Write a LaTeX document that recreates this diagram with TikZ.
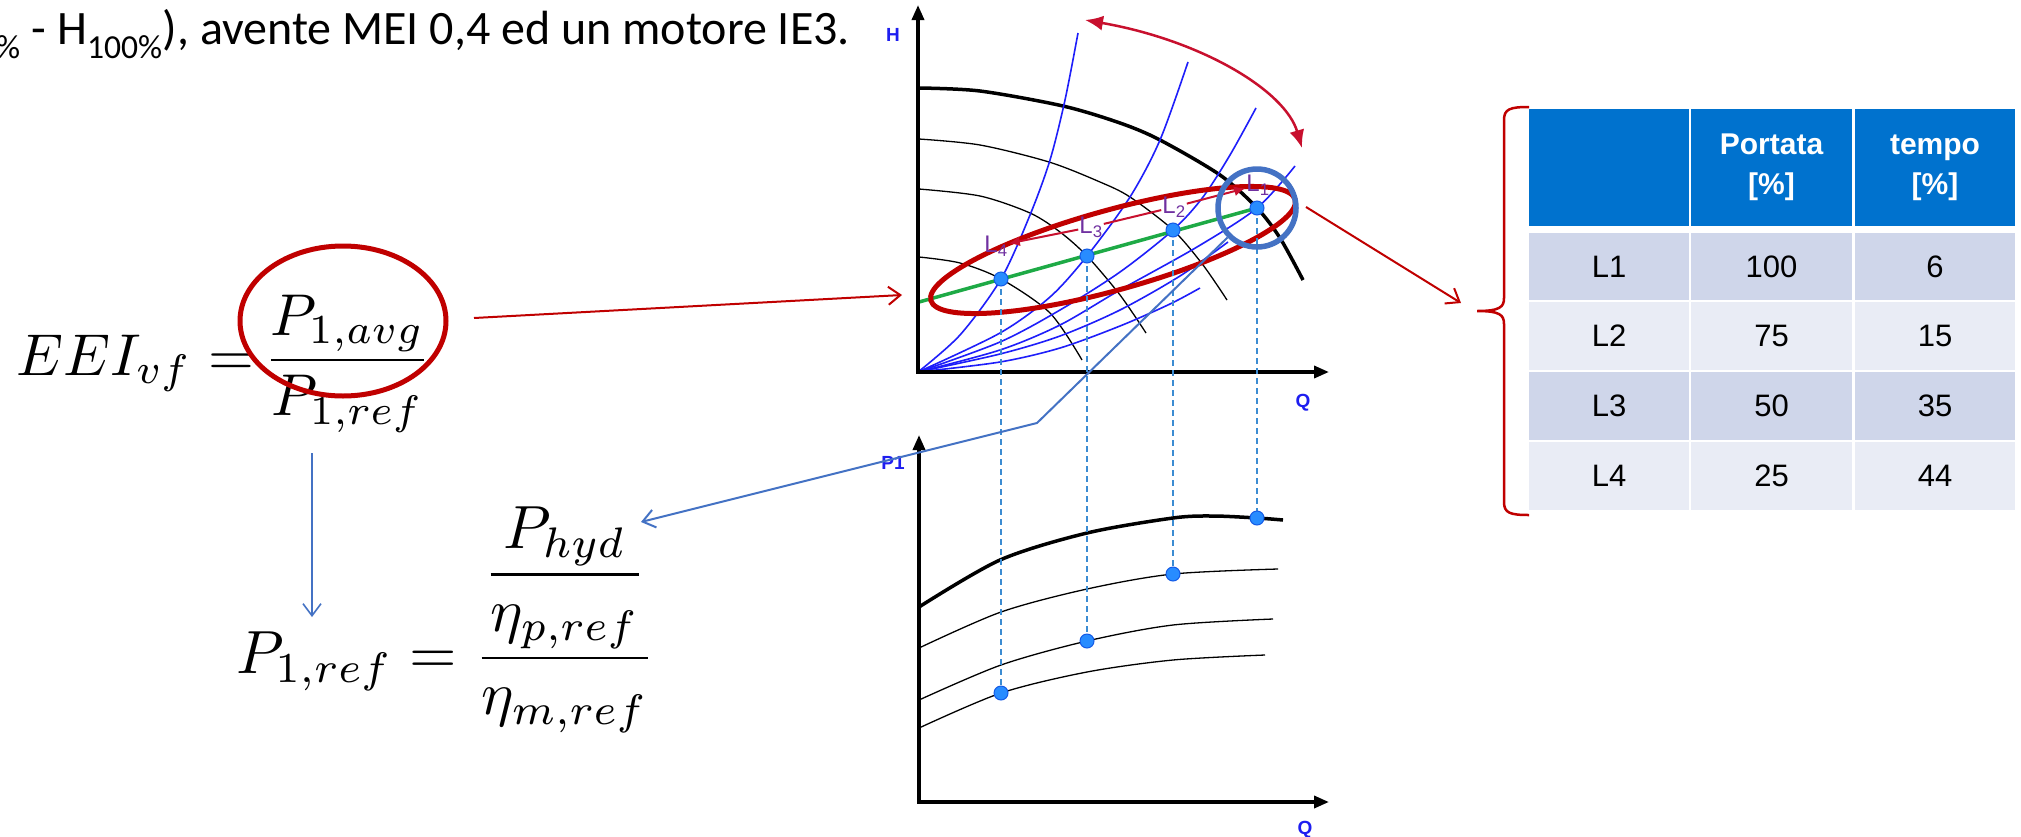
\documentclass[tikz,border=0pt]{standalone}
\usepackage{fontspec}
\usepackage{amsmath}
\usepackage{graphicx}
\usetikzlibrary{arrows.meta,shapes.geometric,calc}
\newfontfamily\carlito{Carlito}
\newfontfamily\arial{Liberation Sans}
\definecolor{darkred}{RGB}{192,0,0}
\definecolor{crimson}{RGB}{200,16,46}
\definecolor{steel}{RGB}{68,114,196}
\definecolor{sysblue}{RGB}{30,30,250}
\definecolor{dotblue}{RGB}{40,140,255}
\definecolor{dotedge}{RGB}{20,90,230}
\definecolor{dashblue}{RGB}{60,140,210}
\definecolor{ctrlgreen}{RGB}{30,170,70}
\definecolor{lblpurple}{RGB}{112,48,160}
\definecolor{hdrblue}{RGB}{0,114,206}
\definecolor{rowdark}{RGB}{207,214,234}
\definecolor{rowlight}{RGB}{233,236,245}
\definecolor{axislbl}{RGB}{30,30,240}
\tikzset{
  axisline/.style={line width=3.5pt, -{Triangle[length=15pt,width=12pt]}},
  thickcurve/.style={line width=3.5pt, smooth, tension=0.5},
  thincurve/.style={line width=1.3pt, smooth, tension=0.5},
  syscurve/.style={sysblue, line width=1.6pt, smooth, tension=0.5},
  dashline/.style={dashblue, line width=1.8pt, dash pattern=on 6pt off 4pt},
  ptdot/.style={circle, fill=dotblue, draw=dotedge, line width=1pt, minimum size=14pt, inner sep=0},
  axlbl/.style={text=axislbl, font=\arial\bfseries\fontsize{19}{21}\selectfont, inner sep=0},
  llbl/.style={text=lblpurple, font=\arial\fontsize{24}{26}\selectfont, inner sep=1pt},
  redarr/.style={crimson, line width=2pt},
  openred/.style={darkred, line width=2pt, -{Straight Barb[length=12pt,width=18pt,line width=2pt]}},
  openblue/.style={steel, line width=2pt, -{Straight Barb[length=12pt,width=18pt,line width=2pt]}},
  cellbase/.style={rectangle, inner sep=0, minimum height=68pt, font=\arial\fontsize{31}{36}\selectfont},
  hdrcell/.style={rectangle, inner sep=0, fill=hdrblue, minimum height=117pt, text=white, align=center, font=\arial\bfseries\fontsize{30}{40}\selectfont}
}
\begin{document}
\begin{tikzpicture}[x=1pt,y=-1pt]
\useasboundingbox (0,0) rectangle (2021,836);
\fill[white] (0,0) rectangle (2021,836);

% ---------- intro text ----------
\node[anchor=base west, inner sep=0, font=\carlito\fontsize{48}{56}\selectfont] (intro) at (-4,44)
  {\textsubscript{\%} - H\textsubscript{100\%}), avente MEI 0,4 ed un motore IE3.};

% ---------- formulas ----------
\node[anchor=base west, inner sep=0] (eei) at (16,375)
  {\scalebox{5.9}{$\displaystyle EEI_{vf}\;{=}\,\frac{P_{1,avg}}{P_{1,ref}}$}};
\node[anchor=base west, inner sep=0] (pref) at (236,673)
  {\scalebox{6.1}{$\displaystyle P_{1,ref} = \frac{\dfrac{P_{hyd}}{\eta_{p,ref}}}{\eta_{m,ref}}$}};
\node[ellipse, draw=darkred, line width=5pt, minimum width=206pt, minimum height=150pt, inner sep=0] (avgring) at (343,321) {};

% ---------- point coordinates ----------
\coordinate (pu1) at (1257,208);
\coordinate (pu2) at (1173,230);
\coordinate (pu3) at (1087,256);
\coordinate (pu4) at (1001,279);
\coordinate (pd1) at (1257,518);
\coordinate (pd2) at (1173,574);
\coordinate (pd3) at (1087,641);
\coordinate (pd4) at (1001,693);

% ---------- upper chart ----------
\draw[thickcurve] plot coordinates {(919,88) (980,91) (1063,106) (1120,123) (1160,140) (1220,175) (1257,208) (1280,238) (1303,280)};
\draw[thincurve] plot coordinates {(919,139) (980,145) (1049,162) (1100,182) (1130,197) (1173,230) (1203,265) (1227,300)};
\draw[thincurve] plot coordinates {(919,189) (980,196) (1030,213) (1060,232) (1087,256) (1120,295) (1146,333)};
\draw[thincurve] plot coordinates {(919,257) (960,263) (1001,279) (1050,313) (1082,360)};

\draw[syscurve] plot coordinates {(918,372) (960,335) (1001,279) (1030,215) (1050,160) (1065,100) (1078,33)};
\draw[syscurve] plot coordinates {(918,372) (1000,333) (1050,297) (1087,256) (1130,197) (1160,140) (1188,62)};
\draw[syscurve] plot coordinates {(918,372) (1000,342) (1060,310) (1120,272) (1173,230) (1203,197) (1230,155) (1256,108)};
\draw[syscurve] plot coordinates {(918,372) (1000,350) (1060,325) (1120,290) (1197,247) (1257,208) (1295,166)};
\draw[syscurve] plot coordinates {(918,372) (1000,354) (1060,336) (1120,310) (1180,276) (1228,242)};
\draw[syscurve] plot coordinates {(918,372) (1000,362) (1060,348) (1120,326) (1170,304) (1200,288)};

\draw[ctrlgreen, line width=3.5pt] (919,302) -- (pu1);

\draw[axisline] (918,373.75) -- (918,5);
\draw[axisline] (916.25,372) -- (1329,372);
\node[axlbl] (hlbl) at (893,35) {H};
\node[axlbl] (qlbl1) at (1303,403) {Q};

% red operating band
\node[ellipse, draw=darkred, line width=5pt, minimum width=378pt, minimum height=80pt, inner sep=0, rotate=15.5] (band) at (1113,250) {};

% L labels and red arrow
\node[llbl] (lab1) at (1258,185) {L\textsubscript{1}};
\node[llbl] (lab2) at (1174,207) {L\textsubscript{2}};
\node[llbl] (lab3) at (1091,227) {L\textsubscript{3}};
\node[llbl] (lab4) at (996,246) {L\textsubscript{4}};
\draw[redarr, -{Latex[length=11pt,width=10pt]}] (lab2) -- (lab1);
\draw[redarr] (lab3) -- (lab2);
\draw[redarr, -{Latex[length=11pt,width=10pt]}] (lab3) -- (lab4);

% curved double arrow
\coordinate (arcA) at (1085,20);
\coordinate (arcB) at (1302,148);
\draw[crimson, line width=2.5pt, {Latex[length=18pt,width=15pt]}-{Latex[length=18pt,width=15pt]}] (arcA) .. controls (1200,40) and (1285,90) .. (arcB);

% ---------- lower chart ----------
\draw[thickcurve] plot coordinates {(919,607) (1000,560) (1087,533) (1173,518) (1213,516) (1257,518) (1283,520)};
\draw[thincurve] plot coordinates {(919,648) (1001,612) (1087,589) (1173,574) (1278,569)};
\draw[thincurve] plot coordinates {(919,700) (1001,665) (1087,641) (1173,625) (1273,619)};
\draw[thincurve] plot coordinates {(919,728) (1001,693) (1087,672) (1173,660) (1265,655)};
\draw[axisline] (919,803.75) -- (919,435);
\draw[axisline] (917.25,802) -- (1329,802);
\node[axlbl] (p1lbl) at (893,463) {P1};
\node[axlbl] (qlbl2) at (1305,830) {Q};

% dashed projections
\draw[dashline] (pu1) -- (pd1);
\draw[dashline] (pu2) -- (pd2);
\draw[dashline] (pu3) -- (pd3);
\draw[dashline] (pu4) -- (pd4);

% dots
\node[ptdot] (u1) at (pu1) {};
\node[ptdot] (u2) at (pu2) {};
\node[ptdot] (u3) at (pu3) {};
\node[ptdot] (u4) at (pu4) {};
\node[ptdot] (d1) at (pd1) {};
\node[ptdot] (d2) at (pd2) {};
\node[ptdot] (d3) at (pd3) {};
\node[ptdot] (d4) at (pd4) {};

% steel ring
\node[circle, draw=steel, line width=5.5pt, minimum size=78pt, inner sep=0] (ring) at (pu1) {};

% ---------- connectors ----------
\coordinate (redA) at (474,318);
\coordinate (redB) at (902,295);
\draw[openred] (redA) -- (redB);

\coordinate (kink) at (1037,423);
\coordinate (phydtip) at (641,522);
\draw[openblue] (ring.south west) -- (kink) -- (phydtip);

\coordinate (vA) at (312,453);
\coordinate (vB) at (312,617);
\draw[steel, line width=1.6pt, -{Straight Barb[length=12pt,width=18pt,line width=1.6pt]}] (vA) -- (vB);

\coordinate (tblA) at (1306,207);
\coordinate (tblB) at (1461,303);
\draw[openred] (tblA) -- (tblB);

% brace
\draw[darkred, line width=2.5pt] (1529,107) .. controls (1510,107) and (1504,109) .. (1504,120) -- (1504,298)
  .. controls (1504,307) and (1500,311) .. (1477,311)
  .. controls (1500,311) and (1504,315) .. (1504,324) -- (1504,502)
  .. controls (1504,513) and (1510,515) .. (1529,515);

% ---------- table ----------
\node[hdrcell, minimum width=160pt] (h1) at (1609,167.5) {};
\node[hdrcell, minimum width=161pt] (h2) at (1771.5,167.5) {Portata\\{[\%]}};
\node[hdrcell, minimum width=160pt] (h3) at (1935,167.5) {tempo\\{[\%]}};

\node[cellbase, fill=rowdark, minimum width=160pt, minimum height=67pt] (r1a) at (1609,266.5) {L1};
\node[cellbase, fill=rowdark, minimum width=161pt, minimum height=67pt] (r1b) at (1771.5,266.5) {100};
\node[cellbase, fill=rowdark, minimum width=160pt, minimum height=67pt] (r1c) at (1935,266.5) {6};

\node[cellbase, fill=rowlight, minimum width=160pt] (r2a) at (1609,336) {L2};
\node[cellbase, fill=rowlight, minimum width=161pt] (r2b) at (1771.5,336) {75};
\node[cellbase, fill=rowlight, minimum width=160pt] (r2c) at (1935,336) {15};

\node[cellbase, fill=rowdark, minimum width=160pt] (r3a) at (1609,406) {L3};
\node[cellbase, fill=rowdark, minimum width=161pt] (r3b) at (1771.5,406) {50};
\node[cellbase, fill=rowdark, minimum width=160pt] (r3c) at (1935,406) {35};

\node[cellbase, fill=rowlight, minimum width=160pt] (r4a) at (1609,476) {L4};
\node[cellbase, fill=rowlight, minimum width=161pt] (r4b) at (1771.5,476) {25};
\node[cellbase, fill=rowlight, minimum width=160pt] (r4c) at (1935,476) {44};
\end{tikzpicture}
\end{document}
